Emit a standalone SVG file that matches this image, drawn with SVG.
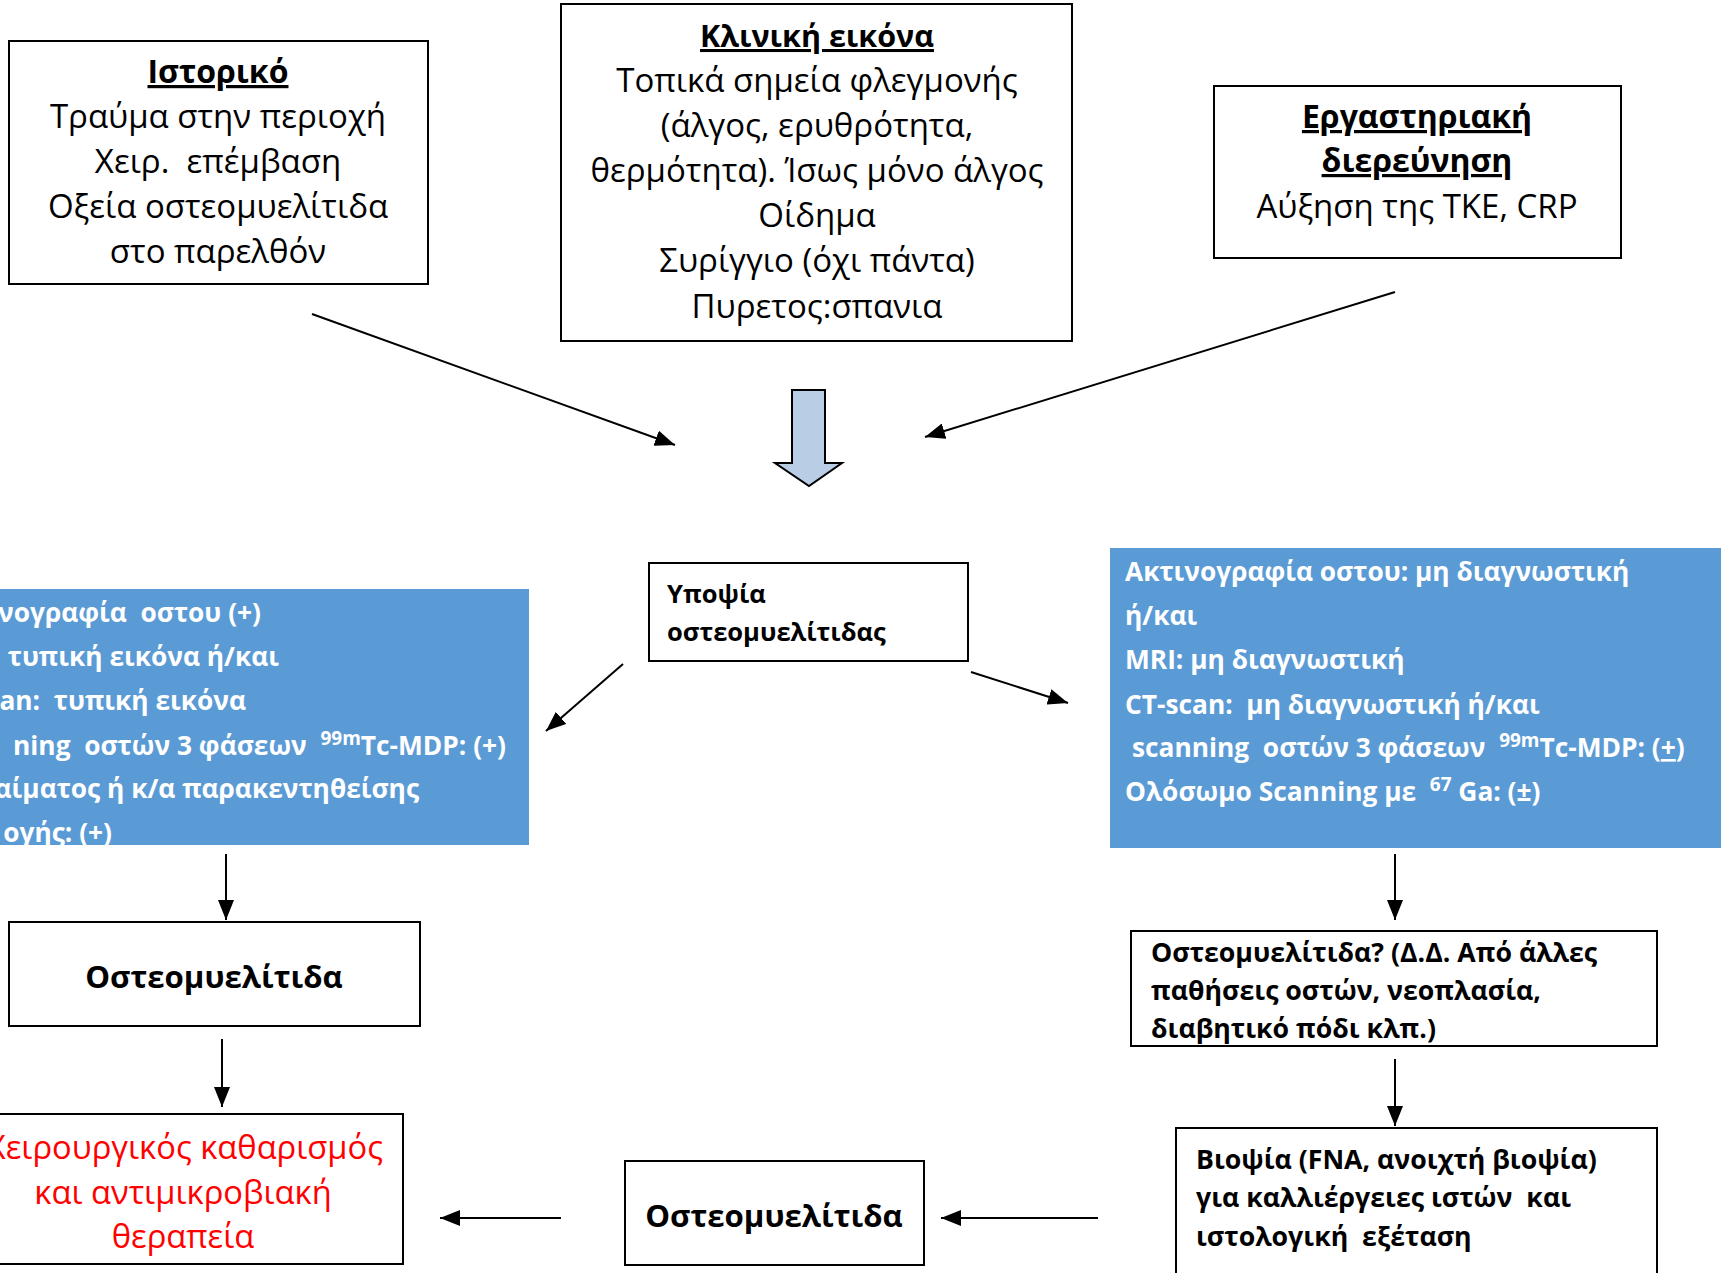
<svg xmlns="http://www.w3.org/2000/svg" width="1721" height="1273" viewBox="0 0 1721 1273">
<style>
text{white-space:pre}
.box{fill:#fff;stroke:#000;stroke-width:2}
.blue{fill:#5b9bd5;stroke:none}
.t{font-family:"Open Sans","Noto Sans","DejaVu Sans",sans-serif;fill:#000}
.reg{font-size:33px}
.ttl{font-size:32px;font-weight:bold;text-decoration:underline}
.wb{font-family:"Open Sans","Noto Sans","DejaVu Sans",sans-serif;font-size:26.3px;font-weight:bold;fill:#fff}
.b25{font-size:25.5px;font-weight:bold}
.b27{font-size:26.7px;font-weight:bold}
.b30{font-size:31.2px;font-weight:bold}
.red{fill:#ff0000;font-size:32.7px}
.conn line{stroke:#000;stroke-width:2;fill:none}
.mid{text-anchor:middle}
</style>
<defs>
<marker id="ah" markerUnits="userSpaceOnUse" markerWidth="22" markerHeight="16" refX="20" refY="8" orient="auto">
<path d="M0,0 L20,8 L0,16 Z" fill="#000"/>
</marker>
</defs>
<rect width="1721" height="1273" fill="#fff"/>

<g id="istoriko">
<rect class="box" x="9" y="41" width="419" height="243"/>
<text class="t ttl mid" x="218" y="83">Ιστορικό</text>
<text class="t reg mid" x="218" y="128">Τραύμα στην περιοχή</text>
<text class="t reg mid" x="218" y="173">Χειρ.  επέμβαση</text>
<text class="t reg mid" x="218" y="218">Οξεία οστεομυελίτιδα</text>
<text class="t reg mid" x="218" y="263">στο παρελθόν</text>
</g>

<g id="kliniki">
<rect class="box" x="561" y="4" width="511" height="337"/>
<text class="t ttl mid" x="817" y="47" style="font-size:30.5px">Κλινική εικόνα</text>
<text class="t reg mid" x="817" y="92">Τοπικά σημεία φλεγμονής</text>
<text class="t reg mid" x="817" y="137">(άλγος, ερυθρότητα,</text>
<text class="t reg mid" x="817" y="182">θερμότητα). Ίσως μόνο άλγος</text>
<text class="t reg mid" x="817" y="227">Οίδημα</text>
<text class="t reg mid" x="817" y="272">Συρίγγιο (όχι πάντα)</text>
<text class="t reg mid" x="817" y="318">Πυρετος:σπανια</text>
</g>

<g id="ergastiriaki">
<rect class="box" x="1214" y="86" width="407" height="172"/>
<text class="t ttl mid" x="1417" y="128">Εργαστηριακή</text>
<text class="t ttl mid" x="1417" y="172">διερεύνηση</text>
<text class="t reg mid" x="1417" y="218">Αύξηση της ΤΚΕ, CRP</text>
</g>

<g id="block-arrow">
<polygon points="792,390 825,390 825,463 842,463 809,486 775,463 792,463" fill="#b9cde5" stroke="#000" stroke-width="2"/>
</g>

<g id="ypopsia">
<rect class="box" x="649" y="563" width="319" height="98"/>
<text class="t b25" x="667" y="603">Υποψία</text>
<text class="t b25" x="667" y="641">οστεομυελίτιδας</text>
</g>

<g id="positive-tests">
<rect class="blue" x="0" y="589" width="529" height="256"/>
<text class="wb" x="261" y="622" text-anchor="end">νογραφία  οστου (+)</text>
<text class="wb" x="279" y="666" text-anchor="end">τυπική εικόνα ή/και</text>
<text class="wb" x="246" y="710" text-anchor="end">an:  τυπική εικόνα</text>
<text class="wb" x="506" y="755" text-anchor="end">ning  οστών 3 φάσεων  <tspan font-size="19" dy="-10">99m</tspan><tspan dy="10">Tc-MDP: (+)</tspan></text>
<text class="wb" x="419" y="798" text-anchor="end">αίματος ή κ/α παρακεντηθείσης</text>
<text class="wb" x="112" y="842" text-anchor="end">ογής: (+)</text>
</g>

<g id="nondiagnostic-tests">
<rect class="blue" x="1110" y="548" width="611" height="300"/>
<text class="wb" x="1125" y="581">Ακτινογραφία οστου: μη διαγνωστική</text>
<text class="wb" x="1125" y="625">ή/και</text>
<text class="wb" x="1125" y="669">MRI: μη διαγνωστική</text>
<text class="wb" x="1125" y="714">CT-scan:  μη διαγνωστική ή/και</text>
<text class="wb" x="1132" y="757">scanning  οστών 3 φάσεων  <tspan font-size="19" dy="-10">99m</tspan><tspan dy="10">Tc-MDP: (</tspan><tspan text-decoration="underline">+</tspan>)</text>
<text class="wb" x="1125" y="801">Ολόσωμο Scanning με  <tspan font-size="19" dy="-10">67</tspan><tspan dy="10"> Ga: (±)</tspan></text>
</g>

<g id="osteo-left">
<rect class="box" x="9" y="922" width="411" height="104"/>
<text class="t b30 mid" x="214" y="988">Οστεομυελίτιδα</text>
</g>

<g id="therapy">
<rect class="box" x="-5" y="1114" width="408" height="150"/>
<text class="t red" x="383" y="1159" text-anchor="end">Χειρουργικός καθαρισμός</text>
<text class="t red mid" x="183" y="1204">και αντιμικροβιακή</text>
<text class="t red mid" x="183" y="1248">θεραπεία</text>
</g>

<g id="osteo-middle">
<rect class="box" x="625" y="1161" width="299" height="104"/>
<text class="t b30 mid" x="774" y="1227">Οστεομυελίτιδα</text>
</g>

<g id="osteo-question">
<rect class="box" x="1131" y="931" width="526" height="115"/>
<text class="t b27" x="1151" y="962">Οστεομυελίτιδα? (Δ.Δ. Από άλλες</text>
<text class="t b27" x="1151" y="1000">παθήσεις οστών, νεοπλασία,</text>
<text class="t b27" x="1151" y="1038">διαβητικό πόδι κλπ.)</text>
</g>

<g id="biopsy">
<path class="box" d="M1176,1290 L1176,1128 L1657,1128 L1657,1290"/>
<text class="t b27" x="1196" y="1169">Βιοψία (FNA, ανοιχτή βιοψία)</text>
<text class="t b27" x="1196" y="1207">για καλλιέργειες ιστών  και</text>
<text class="t b27" x="1196" y="1246">ιστολογική  εξέταση</text>
</g>

<g class="conn" id="connectors">
<line x1="312" y1="314" x2="675" y2="445" marker-end="url(#ah)"/>
<line x1="1395" y1="292" x2="925" y2="437" marker-end="url(#ah)"/>
<line x1="623" y1="664" x2="546" y2="731" marker-end="url(#ah)"/>
<line x1="971" y1="672" x2="1068" y2="703" marker-end="url(#ah)"/>
<line x1="226" y1="854" x2="226" y2="920" marker-end="url(#ah)"/>
<line x1="222" y1="1039" x2="222" y2="1107" marker-end="url(#ah)"/>
<line x1="1395" y1="854" x2="1395" y2="920" marker-end="url(#ah)"/>
<line x1="1395" y1="1059" x2="1395" y2="1126" marker-end="url(#ah)"/>
<line x1="1098" y1="1218" x2="941" y2="1218" marker-end="url(#ah)"/>
<line x1="561" y1="1218" x2="440" y2="1218" marker-end="url(#ah)"/>
</g>
</svg>
